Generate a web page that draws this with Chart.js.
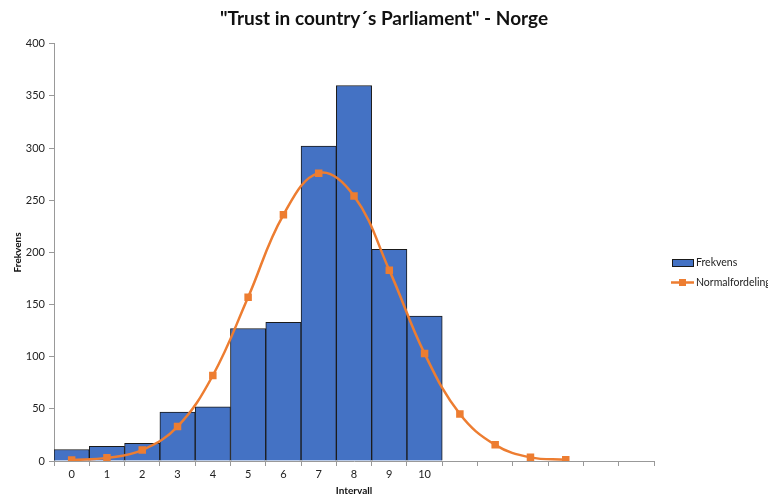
<!DOCTYPE html>
<html>
<head>
<meta charset="utf-8">
<script src="https://cdn.jsdelivr.net/npm/chart.js@4"></script>
<style>
  html, body { margin: 0; padding: 0; background: #fff; }
  #wrap { width: 768px; height: 497px; }
</style>
</head>
<body>
<div id="wrap"><canvas id="chart" width="768" height="497"></canvas></div>
<script>
// intervals 0-10 plus empty bins on the right
const intervals = ['0', '1', '2', '3', '4', '5', '6', '7', '8', '9', '10', '', '', '', '', '', ''];
const frekvens = [11, 14, 17, 47, 52, 127, 133, 302, 360, 203, 139];
const normalfordeling = [1, 3, 10.5, 33, 82, 157, 236, 276, 254, 183, 103, 45, 15.5, 3.5, 1.2];
const yTicks = [0, 50, 100, 150, 200, 250, 300, 350, 400];

const FONT = 'Lato, "Liberation Sans", sans-serif';
const BLUE = '#4472C4';
const ORANGE = '#ED7D31';

// legend drawn by hand: box for the bars, line with marker for the curve
const legendPlugin = {
  id: 'sideLegend',
  afterDraw(chart) {
    const ctx = chart.ctx;
    const x0 = chart.chartArea.right + 18;
    ctx.save();
    ctx.font = '10.5px ' + FONT;
    ctx.textBaseline = 'middle';

    ctx.fillStyle = BLUE;
    ctx.fillRect(x0, 259, 21, 7);
    ctx.strokeStyle = '#1a1a1a';
    ctx.lineWidth = 1;
    ctx.strokeRect(x0 + 0.5, 259.5, 21, 7);
    ctx.fillStyle = '#222';
    ctx.fillText('Frekvens', x0 + 24, 262.5);

    ctx.strokeStyle = ORANGE;
    ctx.lineWidth = 2.5;
    ctx.beginPath();
    ctx.moveTo(x0 - 1, 282.5);
    ctx.lineTo(x0 + 22, 282.5);
    ctx.stroke();
    ctx.fillStyle = ORANGE;
    ctx.fillRect(x0 + 7, 279, 7, 7);
    ctx.fillStyle = '#222';
    ctx.fillText('Normalfordeling', x0 + 24, 282.5);
    ctx.restore();
  }
};

new Chart(document.getElementById('chart'), {
  data: {
    labels: intervals,
    datasets: [
      {
        type: 'line',
        label: 'Normalfordeling',
        data: normalfordeling,
        borderColor: ORANGE,
        backgroundColor: ORANGE,
        borderWidth: 2.5,
        tension: 0.4,
        pointStyle: 'rect',
        pointRadius: 5.3,
        pointBorderWidth: 0,
        order: 0
      },
      {
        type: 'bar',
        label: 'Frekvens',
        data: frekvens,
        backgroundColor: BLUE,
        borderColor: '#1a1a1a',
        borderWidth: 1,
        barPercentage: 1,
        categoryPercentage: 1,
        order: 1
      }
    ]
  },
  options: {
    responsive: false,
    animation: false,
    plugins: {
      legend: { display: false },
      tooltip: { enabled: false },
      title: {
        display: true,
        text: '"Trust in country´s Parliament" - Norge',
        color: '#111',
        font: { family: FONT, size: 19, weight: 'bold' },
        padding: { top: 7, bottom: 14 }
      }
    },
    scales: {
      x: {
        offset: true,
        grid: {
          display: true,
          offset: true,
          drawOnChartArea: false,
          tickLength: 5,
          color: '#999'
        },
        border: { color: '#999' },
        ticks: { color: '#222', font: { family: FONT, size: 11 }, padding: 2, maxRotation: 0, autoSkip: false },
        title: {
          display: true,
          text: 'Intervall',
          color: '#111',
          font: { family: FONT, size: 10, weight: 'bold' },
          padding: { top: 4, bottom: 0 }
        },
        afterFit(scale) { scale.height = 36; }
      },
      y: {
        min: 0,
        max: 400,
        afterBuildTicks(scale) { scale.ticks = yTicks.map(v => ({ value: v })); },
        grid: {
          display: true,
          drawOnChartArea: false,
          tickLength: 5,
          color: '#999'
        },
        border: { color: '#999' },
        ticks: { color: '#222', font: { family: FONT, size: 11 }, padding: 4 },
        title: {
          display: true,
          text: 'Frekvens',
          color: '#111',
          font: { family: FONT, size: 10, weight: 'bold' },
          padding: { top: 12, bottom: 0 }
        },
        afterFit(scale) { scale.width = 54; }
      },
      // empty right-hand scale that only reserves room for the legend
      legendSpace: {
        position: 'right',
        display: true,
        grid: { display: false },
        border: { display: false },
        ticks: { display: false },
        afterFit(scale) { scale.width = 114; }
      }
    }
  },
  plugins: [legendPlugin]
});
</script>
</body>
</html>
